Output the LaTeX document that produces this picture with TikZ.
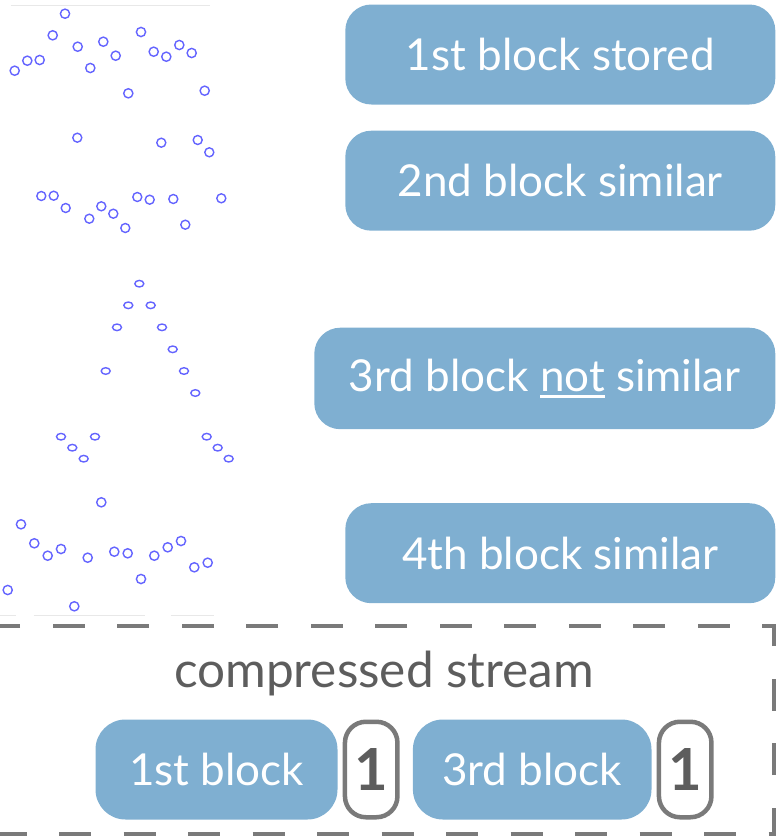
\documentclass[tikz,border=0pt]{standalone}
\usepackage{fontspec}
\setmainfont{Lato}
\usetikzlibrary{positioning}
\definecolor{blockblue}{RGB}{127,175,209}
\definecolor{framegray}{RGB}{122,122,122}
\definecolor{textgray}{RGB}{93,93,93}
\definecolor{dotblue}{RGB}{100,100,255}
\definecolor{axisgray}{RGB}{232,232,232}
\newcommand{\ulword}[1]{\setbox0\hbox{#1}\rlap{\rule[-6.5pt]{\wd0}{3pt}}\box0\relax}

\begin{document}
\begin{tikzpicture}[x=1pt, y=-1pt]
    \tikzset{
        block/.style={rectangle, rounded corners=26pt, fill=blockblue, text=white,
            font=\fontsize{44}{50}\selectfont, minimum height=100pt, inner sep=0pt},
        countbox/.style={rectangle, rounded corners=21pt, draw=framegray, line width=4.5pt,
            fill=white, minimum width=52.5pt, minimum height=95.5pt, inner sep=0pt,
            text=textgray, font=\bfseries\fontsize{58}{60}\selectfont},
        scatterpt/.style={draw=dotblue, line width=1.4pt}
    }
    \useasboundingbox (0,0) rectangle (778,836);

    % Plot axes (faint)
    \draw[axisgray, line width=1pt] (10.7,5) -- (210,5);
    \draw[axisgray, line width=1pt] (0,615) -- (16,615) (33.7,615) -- (145,615) (170.7,615) -- (214.4,615);

    % Sample blocks
    \foreach \px/\py in {65/13.7, 52.7/35.3, 14.7/70.7, 27.3/60.7, 39.7/60, 77.7/46.7, 90.3/68, 103.3/41.7,
        115.7/55.7, 128.3/93.3, 141/32, 153.7/51.7, 166.3/56.7, 179.3/45, 191.7/53, 204.7/90.7}
        \draw[scatterpt] (\px,\py) circle[radius=4.6pt];
    \foreach \px/\py in {77.3/137.7, 161.3/142.7, 197.7/140, 209.3/152.3, 41.3/196, 53.7/195.7, 65.7/208, 89.3/218.7,
        101.3/206.3, 113.3/213.7, 125.3/228, 137.3/197, 149.7/199.7, 173.3/199, 185.3/224.7, 221.3/198.3}
        \draw[scatterpt] (\px,\py) circle[radius=4.5pt];
    \foreach \px/\py in {139.3/283.7, 128.3/305.3, 150.7/305.3, 117/327.3, 162/327.3, 172.7/349.3, 105.7/371, 184/371,
        195.3/393, 61/436.7, 95/436.7, 72.3/447.7, 83.7/458.7, 206.7/436.7, 217.7/447.7, 228.7/458.7}
        \draw[scatterpt] (\px,\py) circle[x radius=4.5pt, y radius=3.3pt];
    \foreach \px/\py in {101.3/502.3, 21/524.3, 34.3/543.3, 47.7/555.7, 61/549, 87.7/557.7, 114.3/551.7, 127.7/553.3,
        141/579, 154.3/555.7, 167.7/547.3, 181/541, 194.3/567.3, 207.7/562.7, 7.7/590, 74.3/606.3}
        \draw[scatterpt] (\px,\py) circle[radius=4.6pt];

    % Block verdicts
    \node[block, minimum width=430pt, anchor=north east] (stored) at (775.5,4.3) {1st block stored};
    \node[block, minimum width=430pt, anchor=north east] (similartwo) at (775.5,130.5) {2nd block similar};
    \node[block, minimum width=461pt, minimum height=101.5pt, anchor=north east] (notsimilar) at (775.5,327.5) {3rd block \ulword{not} similar};
    \node[block, minimum width=430pt, anchor=north east] (similarfour) at (775.5,503) {4th block similar};

    % Compressed stream
    \draw[framegray, line width=4.5pt, dash pattern=on 32pt off 32.5pt, dash phase=30pt]
        (-40,834) -- (774,834) -- (774,626) -- (-40,626);
    \node[text=textgray, font=\fontsize{49.5}{55}\selectfont, anchor=base] (streamlabel) at (384,687) {compressed stream};
    \node[block, rounded corners=30pt, minimum width=242pt, anchor=north west] (first) at (95.3,719.3) {1st block};
    \node[countbox, right=5pt of first] (firstcount) {1};
    \node[block, rounded corners=30pt, minimum width=238.6pt, right=13pt of firstcount] (third) {3rd block};
    \node[countbox, right=5pt of third] (thirdcount) {1};
\end{tikzpicture}
\end{document}
